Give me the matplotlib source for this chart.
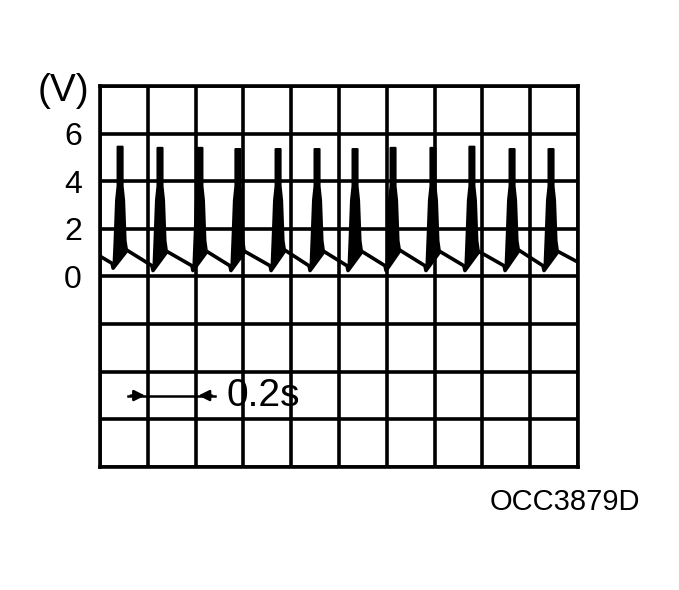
import numpy as np
import matplotlib
matplotlib.use("Agg")
import matplotlib.pyplot as plt

plt.rcParams['font.family'] = ['Liberation Sans', 'DejaVu Sans']

# ---- values ----
spike_t = [0.084, 0.251, 0.418, 0.577, 0.745, 0.908, 1.067, 1.226, 1.393, 1.556, 1.724, 1.887]
spike_peak = [5.45, 5.4, 5.4, 5.35, 5.35, 5.35, 5.35, 5.4, 5.4, 5.45, 5.35, 5.35]
base_before = [0.55, 0.45, 0.45, 0.45, 0.45, 0.45, 0.45, 0.45, 0.45, 0.45, 0.45, 0.45]
base_after = [1.1, 1.05, 1.05, 1.05, 1.1, 1.05, 1.05, 1.1, 1.05, 1.05, 1.1, 1.05]
start_level = 0.85
end_level = 0.6

# spike outline (offset in screen pixels, volts); 'pk' -> spike_peak, None -> base level
spike_dx = [-6.5, -5.5, -4, -2.5, -2.5, 2.5, 2.5, 4, 5.5, 7]
spike_v = [None, 1.5, 3.2, 3.8, 'pk', 'pk', 3.8, 3.2, 1.5, None]

y_ticks = [0, 2, 4, 6]
x_div = np.arange(0, 2.01, 0.2)
y_div = np.arange(-8, 8.01, 2)

px = 0.2 / 47.8  # seconds per screen pixel

fig = plt.figure(figsize=(6.79, 5.90), dpi=100)
ax = fig.add_axes([0.1473, 0.2085, 0.704, 0.6458])
ax.set_xlim(0, 2.0)
ax.set_ylim(-8, 8)

# grid
for xv in x_div:
    ax.axvline(xv, color='black', lw=2.6, zorder=1)
for yv in y_div:
    ax.axhline(yv, color='black', lw=2.6, zorder=1)
for s in ax.spines.values():
    s.set_linewidth(2.6)

# trace
t = [0.0]
v = [start_level]
for ts, pk, vb, va in zip(spike_t, spike_peak, base_before, base_after):
    t += [ts - 8 * px, ts - 7 * px]
    v += [vb, vb - 0.2]
    t += [ts + 7 * px]
    v += [va]
    poly_t = [ts + d * px for d in spike_dx]
    poly_v = [vb if s is None and i == 0 else va if s is None else pk if s == 'pk' else s
              for i, s in enumerate(spike_v)]
    ax.fill(poly_t, poly_v, facecolor='black', lw=1.5, edgecolor='black',
            joinstyle='round', zorder=3)
t += [2.0]
v += [end_level]
ax.plot(t, v, color='black', lw=2.6, solid_joinstyle='round', zorder=3)

# axis labels
ax.set_xticks([])
ax.set_yticks(y_ticks)
ax.set_yticklabels([str(y) for y in y_ticks], fontsize=23)
ax.tick_params(axis='y', length=0, pad=13)
ax.text(-0.155, 7.77, '(V)', fontsize=28, ha='center', va='center', clip_on=False)

# time scale marker
arrow_y = -5.0
ax.plot([0.117, 0.48], [arrow_y, arrow_y], color='black', lw=1.8, zorder=4)
ax.annotate('', xy=(0.2, arrow_y), xytext=(0.117, arrow_y),
            arrowprops=dict(arrowstyle='-|>', color='black', lw=1.8, mutation_scale=16))
ax.annotate('', xy=(0.4, arrow_y), xytext=(0.48, arrow_y),
            arrowprops=dict(arrowstyle='-|>', color='black', lw=1.8, mutation_scale=16))
ax.text(0.531, arrow_y, '0.2s', fontsize=28, ha='left', va='center')

fig.text(0.832, 0.149, 'OCC3879D', fontsize=21, ha='center', va='center')

fig.savefig('out.png', dpi=100)
